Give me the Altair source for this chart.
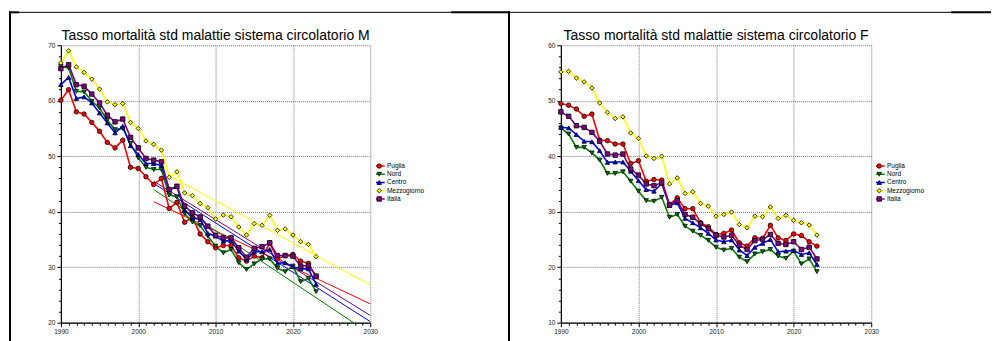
import altair as alt
import pandas as pd

years = list(range(1990, 2024))
series = ["Puglia", "Nord", "Centro", "Mezzogiorno", "Italia"]
colors = ["#FF0000", "#008000", "#0000FF", "#FFFF00", "#800080"]
shapes = ["circle", "triangle-down", "triangle-up", "diamond", "square"]

title_m = "Tasso mortalità std malattie sistema circolatorio M"
title_f = "Tasso mortalità std malattie sistema circolatorio F"

# ---- Maschi ----
m_puglia = [60.1, 62.0, 58.0, 57.6, 56.1, 54.5, 52.5, 51.5, 52.9, 48.0,
            47.8, 46.3, 44.9, 46.0, 40.6, 41.7, 38.1, 39.0, 36.0, 34.6,
            33.5, 33.9, 33.9, 31.7, 31.1, 32.0, 31.7, 34.4, 31.5, 32.1,
            32.3, 31.1, 30.7, 28.3]
m_nord = [66.2, 65.9, 61.7, 61.6, 59.9, 58.7, 56.5, 54.8, 55.0, 52.3,
          49.7, 48.0, 47.6, 47.6, 43.0, 42.7, 39.65, 38.15, 37.5, 35.6,
          33.8, 32.6, 33.2, 30.8, 29.6, 30.6, 31.5, 31.5, 29.8, 29.2,
          30.2, 27.4, 28.0, 25.6]
m_centro = [62.9, 64.2, 60.4, 60.7, 59.6, 57.8, 56.0, 54.2, 55.4, 51.9,
            50.3, 48.7, 48.7, 48.3, 43.9, 44.5, 40.3, 38.9, 38.6, 36.1,
            35.6, 34.7, 34.8, 32.9, 31.4, 32.8, 32.8, 33.2, 30.7, 30.8,
            30.1, 29.7, 29.7, 26.9]
m_mezzogiorno = [66.8, 69.0, 66.1, 65.1, 63.9, 62.1, 59.8, 59.3, 59.5, 56.1,
                 55.0, 52.75, 52.15, 51.1, 46.2, 47.2, 43.4, 42.9, 41.5, 40.7,
                 38.7, 39.4, 39.1, 37.25, 35.8, 37.85, 37.55, 39.35, 36.65, 36.9,
                 35.8, 34.6, 34.1, 31.9]
m_italia = [65.8, 66.5, 62.9, 62.6, 61.2, 59.6, 57.4, 56.2, 56.7, 53.4,
            51.5, 49.6, 49.3, 49.0, 44.0, 44.6, 41.0, 39.8, 39.05, 37.4,
            35.75, 35.3, 35.3, 33.5, 31.8, 33.4, 33.7, 34.4, 32.1, 32.1,
            32.0, 30.2, 30.3, 28.4]

# trend lines (M panel): start/end of each line
m_trend_x0 = [2002, 2002, 2002, 2004, 2002]
m_trend_y0 = [41.8, 44.0, 45.1, 46.5, 45.5]
m_trend_x1 = [2030, 2030, 2030, 2030, 2030]
m_trend_y1 = [23.4, 18.0, 20.2, 26.8, 21.3]

# ---- Femmine ----
f_puglia = [49.5, 49.2, 48.5, 47.2, 47.6, 42.9, 42.8, 42.2, 42.2, 38.7,
            39.2, 35.5, 35.8, 35.7, 31.3, 32.5, 30.55, 30.55, 28.0, 27.3,
            25.9, 26.1, 26.7, 24.4, 23.8, 25.3, 25.2, 27.55, 25.3, 24.8,
            26.0, 25.7, 24.6, 23.8]
f_nord = [45.1, 44.0, 41.6, 41.6, 40.6, 39.3, 36.9, 36.9, 37.2, 35.5,
          33.7, 32.0, 31.9, 32.6, 29.0, 29.5, 27.4, 26.5, 25.75, 24.85,
          23.6, 23.1, 23.4, 21.8, 21.0, 22.4, 22.8, 23.2, 22.0, 21.6,
          22.9, 20.6, 21.5, 19.2]
f_centro = [45.2, 45.1, 43.9, 42.7, 42.6, 41.0, 38.9, 38.95, 38.95, 37.3,
            35.6, 34.0, 33.7, 35.1, 31.1, 31.6, 28.8, 28.0, 27.1, 26.1,
            24.9, 24.6, 24.9, 23.1, 22.1, 23.6, 24.3, 25.0, 22.8, 22.9,
            23.0, 22.3, 22.6, 20.5]
f_mezzogiorno = [55.2, 55.3, 54.1, 53.4, 52.3, 49.6, 47.9, 46.8, 47.1, 44.2,
                 43.2, 40.05, 39.6, 40.0, 35.0, 36.1, 33.3, 33.6, 31.5, 31.0,
                 29.2, 29.5, 29.95, 27.7, 27.1, 29.2, 29.1, 30.85, 28.8, 29.35,
                 28.45, 28.0, 27.6, 25.8]
f_italia = [48.0, 47.2, 45.5, 45.2, 44.3, 42.7, 40.4, 40.2, 40.4, 37.7,
            36.6, 35.0, 34.7, 35.2, 31.2, 32.0, 29.5, 29.0, 27.85, 26.95,
            25.75, 25.45, 25.75, 23.95, 23.2, 24.8, 25.0, 25.9, 24.3, 24.1,
            24.6, 23.2, 23.6, 21.5]

FONT = "Liberation Sans, Arial, sans-serif"
MAJOR = "datum.value % 10 === 0"


def long_df(lists):
    rows = []
    for s, vals in zip(series, lists):
        for yr, v in zip(years, vals):
            rows.append({"Anno": yr, "Valore": v, "Serie": s})
    return pd.DataFrame(rows)


def cond(a, b):
    return {"condition": {"test": MAJOR, "value": a}, "value": b}


def make_axis(values):
    return alt.Axis(
        values=values, format="d",
        labelExpr=MAJOR + " ? datum.label : ''",
        labelOverlap=False, labelFlush=False,
        tickSize=cond(4, 2.5), tickColor="black", tickWidth=1,
        grid=True, gridOpacity=cond(1, 0), gridColor="#777777",
        gridDash=[1, 1], gridWidth=1,
        domainColor="black", domainWidth=1.2,
        labelFont=FONT, labelFontSize=6.5, labelColor="#222222",
        labelPadding=2, title=None,
    )


dummy = pd.DataFrame({"k": [0]})


def vrule(x, y0, y1, w):
    return alt.Chart(dummy).mark_rule(color="black", strokeWidth=w).encode(
        x=alt.value(x), y=alt.value(y0), y2=alt.value(y1))


def hrule(x0, x1, y, w, c="black"):
    return alt.Chart(dummy).mark_rule(color=c, strokeWidth=w).encode(
        x=alt.value(x0), x2=alt.value(x1), y=alt.value(y))


def panel(lists, title, ymin, ymax, width, decor, trend_df=None):
    df = long_df(lists)
    cs = alt.Scale(domain=series, range=colors)
    ss = alt.Scale(domain=series, range=shapes)
    xenc = alt.X("Anno:Q", scale=alt.Scale(domain=[1990, 2030], nice=False, zero=False),
                 axis=make_axis(list(range(1990, 2031))))
    yenc = alt.Y("Valore:Q", scale=alt.Scale(domain=[ymin, ymax], nice=False, zero=False),
                 axis=make_axis(list(range(ymin, ymax + 1, 2))))
    common = dict(orient="none", legendX=315.75, legendY=117.5, title=None, padding=0,
                  labelFont=FONT, labelFontSize=6.5, labelColor="black",
                  labelOffset=4.5, rowPadding=1.25, symbolOffset=0,
                  clipHeight=7, gridAlign="all")
    line_leg = alt.Legend(symbolType="M-2.75,0L2.75,0", symbolSize=16,
                          symbolStrokeWidth=1.6, **common)
    pt_leg = alt.Legend(symbolSize=20, symbolStrokeColor="black",
                        symbolStrokeWidth=0.8, labelExpr="''", **common)

    layers = list(decor)
    tdata = pd.DataFrame({"t": [title]})
    layers.append(alt.Chart(tdata).mark_text(
        font=FONT, fontSize=14, color="black", align="center", baseline="alphabetic"
    ).encode(text="t:N", x=alt.value(width / 2), y=alt.value(-5)))
    if trend_df is not None:
        layers.append(alt.Chart(trend_df).mark_line(strokeWidth=1, clip=True).encode(
            x=xenc, y=yenc, color=alt.Color("Serie:N", scale=cs, legend=None)))
    layers.append(alt.Chart(df).mark_line(strokeWidth=1.6).encode(
        x=xenc, y=yenc, color=alt.Color("Serie:N", scale=cs, legend=line_leg)))
    layers.append(alt.Chart(df).mark_point(
        filled=True, size=20, stroke="black", strokeWidth=0.8, opacity=1).encode(
        x=xenc, y=yenc,
        color=alt.Color("Serie:N", scale=cs, legend=pt_leg),
        shape=alt.Shape("Serie:N", scale=ss, legend=pt_leg)))
    return alt.layer(*layers).resolve_legend(
        color="independent", shape="independent").properties(width=width, height=278)


trend_m = pd.DataFrame({
    "Serie": series + series,
    "Anno": m_trend_x0 + m_trend_x1,
    "Valore": m_trend_y0 + m_trend_y1,
})

decor_m = [
    vrule(-51, -34, 297, 2),
    hrule(-42, 391, -33, 1),
    hrule(-52, -42, -33, 2),
    hrule(391, 450, -33, 2),
]
decor_f = [
    vrule(-52, -34, 297, 2),
    hrule(-51, 391, -33, 1),
    hrule(391, 431, -33, 2),
]

pm = panel([m_puglia, m_nord, m_centro, m_mezzogiorno, m_italia],
           title_m, 20, 70, 310, decor_m, trend_m)
pf = panel([f_puglia, f_nord, f_centro, f_mezzogiorno, f_italia],
           title_f, 10, 60, 311, decor_f)

chart = alt.hconcat(pm, pf, spacing=191, bounds="flush",
                    padding={"left": 0, "top": 2, "right": 0, "bottom": 0}).resolve_scale(
    x="independent", y="independent", color="independent", shape="independent"
).configure_view(strokeWidth=0)

chart.save("out.html", embed_options={"renderer": "svg", "actions": False})
